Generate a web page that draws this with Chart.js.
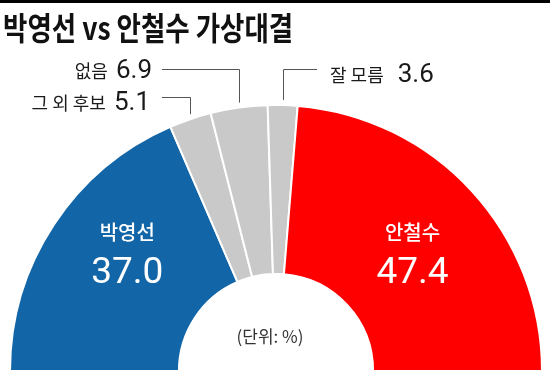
<!DOCTYPE html>
<html>
<head>
<meta charset="utf-8">
<script src="https://cdn.jsdelivr.net/npm/chart.js@4"></script>
<style>
  body { margin: 0; width: 550px; height: 370px; overflow: hidden; background: #fff; position: relative; }
  #topbar { position: absolute; left: 0; top: 0; width: 550px; height: 3px; background: #000; }
  #title { position: absolute; left: 3px; top: 9px; font-family: "Noto Sans CJK KR", sans-serif; font-weight: 700;
           font-size: 26.5px; line-height: 30px; color: #111; letter-spacing: 0;
           transform: scaleY(1.21); transform-origin: left top; white-space: nowrap; }
  #wrap { position: absolute; left: 0; top: 0; width: 550px; height: 380px; }
</style>
</head>
<body>
<div id="topbar"></div>
<div id="wrap"><canvas id="chart" width="550" height="380"></canvas></div>
<div id="title">박영선 vs 안철수 가상대결</div>
<script>
const labels = ["박영선", "그 외 후보", "없음", "잘 모름", "안철수"];
const values = [37.0, 5.1, 6.9, 3.6, 47.4];
const colors = ["#1265a6", "#c9c9c9", "#c9c9c9", "#c9c9c9", "#fe0000"];
const unitNote = "(단위: %)";

// where the small callouts sit (layout only)
const callouts = {
  1: { side: "left", lineY: 97, lineX: 162, textX: 150, baseY: 110 },
  2: { side: "left", lineY: 69, lineX: 162, textX: 152, baseY: 78 },
  3: { side: "right", lineY: 69, lineX: 317, textX: 330, baseY: 82 },
};

const labelPlugin = {
  id: "labelPlugin",
  afterDatasetsDraw(chart) {
    const ctx = chart.ctx;
    const meta = chart.getDatasetMeta(0);
    ctx.save();
    meta.data.forEach((arc, i) => {
      const p = arc.getProps(["x", "y", "startAngle", "endAngle", "outerRadius", "innerRadius"], true);
      const mid = (p.startAngle + p.endAngle) / 2;
      const val = values[i].toFixed(1);
      if (callouts[i]) {
        const c = callouts[i];
        const px = p.x + Math.cos(mid) * p.outerRadius;
        const py = p.y + Math.sin(mid) * p.outerRadius - 5;
        ctx.strokeStyle = "#555";
        ctx.lineWidth = 1;
        ctx.beginPath();
        ctx.moveTo(Math.round(px) + 0.5, py);
        ctx.lineTo(Math.round(px) + 0.5, c.lineY + 0.5);
        ctx.lineTo(c.lineX, c.lineY + 0.5);
        ctx.stroke();
        ctx.fillStyle = "#1a1a1a";
        ctx.textBaseline = "alphabetic";
        if (c.side === "left") {
          ctx.textAlign = "right";
          ctx.font = "26px Roboto";
          ctx.fillText(val, c.textX, c.baseY);
          const w = ctx.measureText(val).width;
          ctx.font = "18px 'Noto Sans CJK KR'";
          ctx.fillText(labels[i], c.textX - w - 8, c.baseY);
        } else {
          ctx.textAlign = "left";
          ctx.font = "18px 'Noto Sans CJK KR'";
          ctx.fillText(labels[i], c.textX, c.baseY);
          const w = ctx.measureText(labels[i]).width;
          ctx.font = "26px Roboto";
          ctx.fillText(val, c.textX + w + 14, c.baseY);
        }
      } else {
        const r = (p.innerRadius + p.outerRadius) / 2;
        const tx = p.x + Math.cos(mid) * r + 3;
        ctx.fillStyle = "#fff";
        ctx.textAlign = "center";
        ctx.textBaseline = "alphabetic";
        ctx.font = "500 20px 'Noto Sans CJK KR'";
        ctx.fillText(labels[i], tx, 240);
        ctx.font = "37px Roboto";
        ctx.fillText(val, tx, 283);
      }
    });
    const c0 = meta.data[0];
    ctx.fillStyle = "#333";
    ctx.textAlign = "center";
    ctx.textBaseline = "middle";
    ctx.font = "17px 'Noto Sans CJK KR'";
    ctx.fillText(unitNote, c0.x - 6, 337);
    ctx.restore();
  },
};

new Chart(document.getElementById("chart"), {
  type: "doughnut",
  data: {
    labels: labels,
    datasets: [{
      data: values,
      backgroundColor: colors,
      borderColor: "#fff",
      borderWidth: 2,
    }],
  },
  options: {
    responsive: false,
    animation: false,
    rotation: -90,
    circumference: 180,
    cutout: "36.5%",
    layout: { padding: { left: 9, right: 7, top: 104, bottom: 8 } },
    plugins: { legend: { display: false }, tooltip: { enabled: false } },
  },
  plugins: [labelPlugin],
});
</script>
</body>
</html>
